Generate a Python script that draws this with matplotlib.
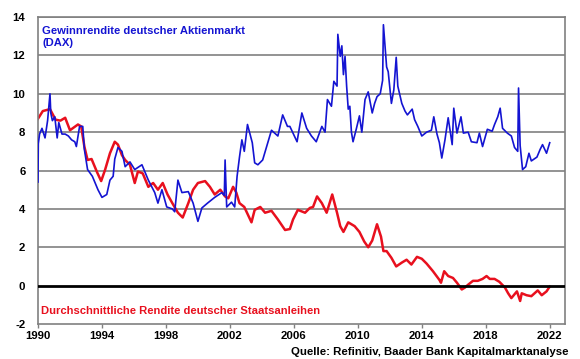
import matplotlib.pyplot as plt

plt.rcParams['font.family'] = ['Liberation Sans', 'DejaVu Sans']
plt.rcParams['axes.unicode_minus'] = False

# Earnings yield of the DAX (decimal year, percent).
dax_t = [1990.0, 1990.02, 1990.1, 1990.25, 1990.44, 1990.6, 1990.75, 1990.8, 1990.9, 1991.05,
         1991.2, 1991.3, 1991.5, 1991.7, 1991.9, 1992.1, 1992.3, 1992.4, 1992.6, 1992.8,
         1992.9, 1993.1, 1993.4, 1993.75, 1994.0, 1994.3, 1994.5, 1994.7, 1994.8, 1995.0,
         1995.25, 1995.45, 1995.75, 1996.05, 1996.5, 1996.9, 1997.3, 1997.5, 1997.75, 1998.05,
         1998.4, 1998.55, 1998.75, 1999.0, 1999.4, 1999.7, 2000.0, 2000.25, 2000.6, 2001.05,
         2001.5, 2001.65, 2001.7, 2001.8, 2002.1, 2002.3, 2002.45, 2002.6, 2002.75, 2002.9,
         2003.1, 2003.4, 2003.55, 2003.75, 2004.05, 2004.3, 2004.6, 2005.0, 2005.3, 2005.6,
         2005.75, 2006.2, 2006.5, 2006.8, 2007.1, 2007.4, 2007.75, 2007.95, 2008.1, 2008.35,
         2008.5, 2008.7, 2008.75, 2008.9, 2009.0, 2009.1, 2009.2, 2009.3, 2009.4, 2009.5,
         2009.6, 2009.7, 2009.9, 2010.1, 2010.25, 2010.45, 2010.65, 2010.9, 2011.05, 2011.2,
         2011.4, 2011.55, 2011.6, 2011.8, 2011.9, 2012.1, 2012.25, 2012.4, 2012.5, 2012.75,
         2012.95, 2013.1, 2013.4, 2013.55, 2013.75, 2014.0, 2014.3, 2014.6, 2014.75, 2014.95,
         2015.1, 2015.25, 2015.45, 2015.65, 2015.9, 2016.0, 2016.2, 2016.45, 2016.6, 2016.9,
         2017.1, 2017.45, 2017.6, 2017.8, 2018.1, 2018.4, 2018.55, 2018.75, 2018.9, 2019.05,
         2019.35, 2019.6, 2019.8, 2020.0, 2020.05, 2020.15, 2020.3, 2020.5, 2020.7, 2020.85,
         2021.2, 2021.4, 2021.55, 2021.8, 2022.0]
dax_y = [5.4, 7.4, 7.9, 8.2, 7.7, 8.6, 10.0, 9.0, 8.6, 8.8,
         7.7, 8.5, 7.9, 7.9, 7.8, 7.6, 7.5, 7.25, 8.3, 8.3,
         7.1, 6.05, 5.7, 5.0, 4.6, 4.75, 5.5, 5.7, 6.6, 7.2,
         7.0, 6.2, 6.45, 6.05, 6.3, 5.5, 4.85, 4.3, 5.0, 4.1,
         4.0, 3.85, 5.5, 4.85, 4.9, 4.3, 3.35, 4.05, 4.3, 4.6,
         4.85, 4.7, 6.55, 4.1, 4.35, 4.1, 5.7, 6.7, 7.6, 7.0,
         8.4, 7.45, 6.4, 6.3, 6.55, 7.25, 8.1, 7.8, 8.9, 8.3,
         8.3, 7.5, 9.0, 8.2, 7.8, 7.5, 8.3, 8.0, 9.7, 9.35,
         10.65, 10.4, 13.1, 11.95, 12.5, 11.0, 11.95, 10.4, 9.2, 9.35,
         8.0, 7.5, 8.15, 8.85, 8.0, 9.7, 10.1, 9.0, 9.5, 9.85,
         10.0, 10.7, 13.6, 11.4, 11.15, 9.5, 10.2, 11.9, 10.4, 9.5,
         9.1, 8.9, 9.2, 8.65, 8.3, 7.8, 8.0, 8.1, 8.8, 7.9,
         7.45, 6.65, 7.6, 8.75, 7.35, 9.25, 7.95, 8.8, 7.95, 8.0,
         7.5, 7.45, 7.95, 7.25, 8.15, 8.05, 8.4, 8.8, 9.25, 8.2,
         7.95, 7.8, 7.2, 7.0, 10.3, 7.3, 6.05, 6.2, 6.9, 6.5,
         6.7, 7.1, 7.35, 6.9, 7.45]

# Average yield of German government bonds (decimal year, percent).
bund_t = [1990.0, 1990.3, 1990.75, 1991.1, 1991.4, 1991.7, 1992.0, 1992.5, 1992.7, 1992.9,
          1993.1, 1993.35, 1993.7, 1993.95, 1994.2, 1994.5, 1994.8, 1995.0, 1995.25, 1995.45,
          1995.75, 1996.05, 1996.25, 1996.55, 1996.9, 1997.2, 1997.5, 1997.8, 1998.1, 1998.4,
          1998.75, 1999.05, 1999.4, 1999.7, 2000.0, 2000.45, 2000.75, 2001.05, 2001.4, 2001.7,
          2001.9, 2002.2, 2002.4, 2002.6, 2002.9, 2003.35, 2003.55, 2003.9, 2004.2, 2004.6,
          2005.0, 2005.45, 2005.75, 2005.95, 2006.25, 2006.7, 2007.0, 2007.2, 2007.45, 2007.75,
          2008.05, 2008.4, 2008.7, 2008.9, 2009.1, 2009.4, 2009.8, 2010.1, 2010.4, 2010.65,
          2010.9, 2011.2, 2011.45, 2011.6, 2011.8, 2012.1, 2012.4, 2012.75, 2013.05, 2013.35,
          2013.7, 2014.0, 2014.3, 2014.7, 2015.1, 2015.2, 2015.4, 2015.65, 2015.95, 2016.2,
          2016.5, 2016.7, 2016.9, 2017.2, 2017.5, 2017.8, 2018.05, 2018.25, 2018.55, 2018.85,
          2019.2, 2019.4, 2019.6, 2019.95, 2020.15, 2020.25, 2020.55, 2020.85, 2021.25, 2021.5,
          2021.8, 2022.0]
bund_y = [8.7, 9.1, 9.2, 8.65, 8.6, 8.75, 8.1, 8.4, 8.3, 7.25,
          6.55, 6.6, 5.9, 5.45, 6.05, 6.9, 7.5, 7.35, 6.8, 6.55,
          6.3, 5.35, 5.95, 5.85, 5.15, 5.35, 5.0, 5.35, 4.75, 4.3,
          3.8, 3.55, 4.3, 5.0, 5.35, 5.45, 5.15, 4.75, 5.0, 4.65,
          4.55, 5.15, 4.85, 4.3, 4.1, 3.3, 3.95, 4.1, 3.8, 3.9,
          3.45, 2.9, 2.95, 3.45, 3.95, 3.8, 4.05, 4.1, 4.65, 4.3,
          3.8, 4.75, 3.8, 3.1, 2.8, 3.3, 3.1, 2.8, 2.3, 2.0,
          2.35, 3.2, 2.55, 1.8, 1.8, 1.45, 1.0, 1.2, 1.35, 1.1,
          1.5, 1.4, 1.15, 0.75, 0.3, 0.15, 0.75, 0.5, 0.4, 0.15,
          -0.2, -0.1, 0.05, 0.25, 0.25, 0.35, 0.5, 0.35, 0.35, 0.2,
          -0.1, -0.4, -0.65, -0.3, -0.8, -0.4, -0.5, -0.55, -0.25, -0.5,
          -0.3, -0.05]

year_ticks = [1990, 1994, 1998, 2002, 2006, 2010, 2014, 2018, 2022]
value_ticks = [-2, 0, 2, 4, 6, 8, 10, 12, 14]

blue = '#1414D2'
red = '#E8101E'
grey = '#808080'

fig = plt.figure(figsize=(5.8, 3.59), dpi=100)
ax = fig.add_axes([0.0655, 0.0975, 0.9085, 0.855])

for v in value_ticks[2:]:
    ax.axhline(v, color=grey, lw=1.2, zorder=1)
ax.axhline(0, color='black', lw=2, zorder=4)

ax.plot(bund_t, bund_y, color=red, lw=1.8, zorder=2)
ax.plot(dax_t, dax_y, color=blue, lw=1.2, zorder=3)

ax.set_xlim(1990, 2022.95)
ax.set_ylim(-2, 14)
ax.set_xticks(year_ticks)
ax.set_yticks(value_ticks)
ax.tick_params(axis='x', length=3, width=1, color=grey, pad=2, labelsize=8.2)
ax.tick_params(axis='y', length=0, pad=9, labelsize=8.2)
for lbl in ax.get_xticklabels() + ax.get_yticklabels():
    lbl.set_fontweight('bold')
for s in ax.spines.values():
    s.set_color(grey)
    s.set_linewidth(1.2)

ax.text(0.0077, 0.972, 'Gewinnrendite deutscher Aktienmarkt\n(DAX)', transform=ax.transAxes,
        color=blue, fontsize=8.1, fontweight='bold', va='top', ha='left', linespacing=1.3)
ax.text(0.0055, 0.043, 'Durchschnittliche Rendite deutscher Staatsanleihen', transform=ax.transAxes,
        color=red, fontsize=8.1, fontweight='bold', va='center', ha='left')
fig.text(0.98, 0.02, 'Quelle: Refinitiv, Baader Bank Kapitalmarktanalyse',
         fontsize=8.2, fontweight='bold', ha='right', va='center')

fig.savefig('out.png', dpi=100)
